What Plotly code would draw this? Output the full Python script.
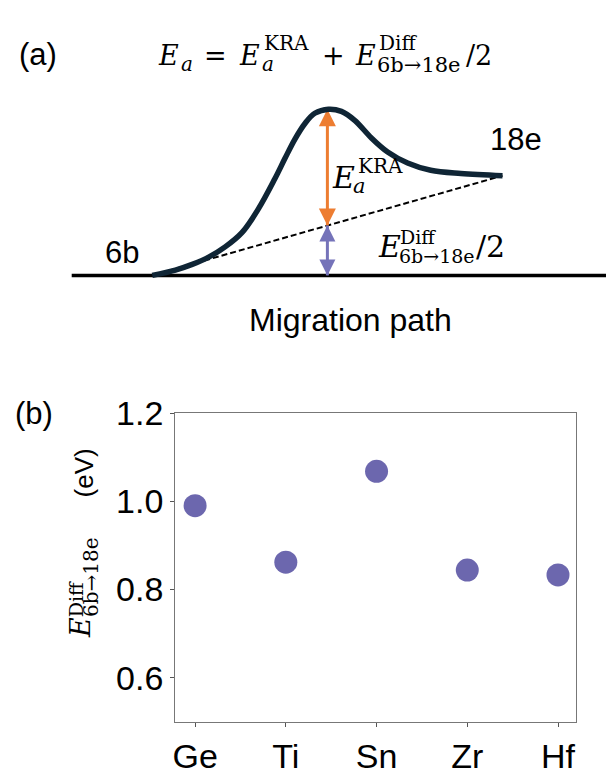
import plotly.graph_objects as go

W, H = 606, 775

# ---------------- Panel (b) data ----------------
elements = ["Ge", "Ti", "Sn", "Zr", "Hf"]
e_diff = [0.99, 0.862, 1.068, 0.844, 0.833]
y_ticks = [0.6, 0.8, 1.0, 1.2]
y_ticktext = ["0.6", "0.8", "1.0", "1.2"]

# ---------------- Panel (a) schematic data ----------------
# reaction coordinate (6b = 0, 18e = 1) and energy (6b = 0, 18e = 1)
path_coord = [0.0, 0.066, 0.114, 0.161, 0.208, 0.256, 0.303, 0.350, 0.379, 0.407,
              0.436, 0.464, 0.503, 0.540, 0.578, 0.625, 0.672, 0.729, 0.795, 0.881, 1.0]
path_energy = [0.0, 0.054, 0.111, 0.184, 0.286, 0.429, 0.667, 0.969, 1.174, 1.365,
               1.524, 1.626, 1.667, 1.645, 1.555, 1.381, 1.238, 1.127, 1.054, 1.022, 1.0]
e_6b = 0.0
e_18e = 1.0
e_ts = 1.667
ts_coord = 0.5
baseline_start = -0.23
baseline_end = 1.30

SANS = "Liberation Sans, Arial, sans-serif"
SERIF = "DejaVu Serif, serif"
ORANGE = "#ed7d31"
PURPLE = "#7573b9"
DOT = "#6c67ae"
CURVE = "#0f2535"

fig = go.Figure()

# ---- panel (a) ----
fig.add_trace(go.Scatter(x=[baseline_start, baseline_end], y=[e_6b, e_6b], mode="lines",
                         line=dict(color="black", width=3.5), xaxis="x2", yaxis="y2"))
fig.add_trace(go.Scatter(x=[path_coord[0], path_coord[-1]], y=[e_6b, e_18e], mode="lines",
                         line=dict(color="black", width=2, dash="6px,3px"), xaxis="x2", yaxis="y2"))
mid = e_6b + (e_18e - e_6b) / 2
# orange arrow (KRA)
fig.add_trace(go.Scatter(x=[ts_coord, ts_coord], y=[mid, e_ts], mode="lines",
                         line=dict(color=ORANGE, width=3), xaxis="x2", yaxis="y2"))
fig.add_trace(go.Scatter(x=[ts_coord, ts_coord], y=[e_ts, mid], mode="markers",
                         marker=dict(symbol=["arrow-up", "arrow-down"], size=17, color=ORANGE,
                                     line=dict(width=0)),
                         cliponaxis=False, xaxis="x2", yaxis="y2"))
# purple arrow (Diff/2)
fig.add_trace(go.Scatter(x=[ts_coord, ts_coord], y=[e_6b, mid], mode="lines",
                         line=dict(color=PURPLE, width=3), xaxis="x2", yaxis="y2"))
fig.add_trace(go.Scatter(x=[ts_coord, ts_coord], y=[mid, e_6b], mode="markers",
                         marker=dict(symbol=["arrow-up", "arrow-down"], size=16, color=PURPLE,
                                     line=dict(width=0)),
                         cliponaxis=False, xaxis="x2", yaxis="y2"))
# energy profile
fig.add_trace(go.Scatter(x=path_coord, y=path_energy, mode="lines",
                         line=dict(color=CURVE, width=5.5, shape="spline", smoothing=1.0),
                         xaxis="x2", yaxis="y2"))

# ---- panel (b) ----
fig.add_trace(go.Scatter(x=elements, y=e_diff, mode="markers",
                         marker=dict(size=23, color=DOT, line=dict(width=0)),
                         cliponaxis=False, xaxis="x", yaxis="y"))


def px(x):
    return x / W


def py(y):
    return 1 - y / H


def txt(text, x, base, size, family=SANS, xanchor="left", angle=0):
    # base: baseline pixel (or baseline x for rotated text)
    if angle == 0:
        xx, yy = x, base - 0.35 * size
    else:
        xx, yy = base - 0.35 * size, x
    fig.add_annotation(text=text, x=px(xx), y=py(yy), xref="paper", yref="paper",
                       xanchor=xanchor, yanchor="middle", showarrow=False,
                       textangle=angle, borderpad=0,
                       font=dict(size=size, family=family, color="black"))


# panel labels
txt("(a)", 35, 48, 31, xanchor="center")
txt("(b)", 31, 426, 31, xanchor="center")

# equation title
txt("<i>E</i>", 155, 48, 27, SERIF)
txt("<i>a</i>", 178, 54, 20, SERIF)
txt("=", 201, 48, 27, SERIF)
txt("<i>E</i>", 236, 48, 27, SERIF)
txt("<i>a</i>", 259, 54, 20, SERIF)
txt("KRA", 261, 32, 20, SERIF)
txt("+", 320, 48, 27, SERIF)
txt("<i>E</i>", 353, 48, 27, SERIF)
txt("Diff", 377, 32, 20, SERIF)
txt("6b→18e", 375, 56, 21, SERIF)
txt("/2", 464, 48, 27, SERIF)

# schematic labels
txt("6b", 120, 257, 31, xanchor="center")
txt("18e", 516, 138, 31, xanchor="center")
txt("Migration path", 349, 328, 32, xanchor="center")

txt("<i>E</i>", 330, 177, 30, SERIF)
txt("<i>a</i>", 351, 183, 21, SERIF)
txt("KRA", 356, 162, 20, SERIF)

txt("<i>E</i>", 376, 250, 30, SERIF)
txt("Diff", 398, 236, 19, SERIF)
txt("6b→18e", 397, 256, 19, SERIF)
txt("/2", 474, 250, 30, SERIF)

# y-axis title of panel (b), rotated
txt("<i>E</i>", 641, 88, 27, SERIF, xanchor="center", angle=-90)
txt("Diff", 611, 80, 19, SERIF, xanchor="center", angle=-90)
txt("6b→18e", 588, 96, 20, SERIF, xanchor="center", angle=-90)
txt("(eV)", 478, 90, 26, SANS, xanchor="center", angle=-90)

axis_common = dict(showline=True, mirror=True, linecolor="#777", linewidth=1,
                   ticks="outside", ticklen=4, tickcolor="#555", tickwidth=1,
                   showgrid=False, zeroline=False,
                   tickfont=dict(size=34, family=SANS, color="black"))

fig.update_layout(
    width=W, height=H,
    margin=dict(l=0, r=0, t=0, b=0),
    paper_bgcolor="white", plot_bgcolor="white",
    showlegend=False,
    xaxis=dict(domain=[173 / W, 576 / W], range=[-0.22, 4.2], type="category",
               anchor="y", **axis_common),
    yaxis=dict(domain=[1 - 740 / H, 1 - 415 / H], range=[0.5, 1.2],
               tickvals=y_ticks, ticktext=y_ticktext, anchor="x", **axis_common),
    xaxis2=dict(domain=[0, 1], range=[-150 / 352, 456 / 352], visible=False,
                anchor="y2"),
    yaxis2=dict(domain=[1 - 320 / H, 1], range=[-50 / 105, 270 / 105], visible=False,
                anchor="x2"),
)

fig.write_html("out.html")
